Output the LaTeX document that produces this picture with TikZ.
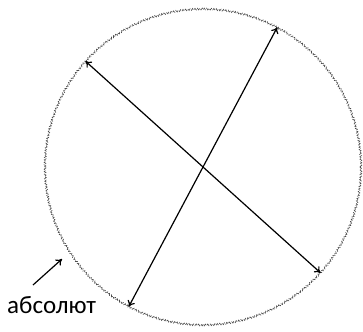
\documentclass[tikz,border=0pt]{standalone}
\usepackage{fontspec}
\setmainfont{Carlito}
\usetikzlibrary{decorations.pathmorphing,arrows.meta}
\tikzset{
  wavy/.style={draw=black!70, line width=0.6pt, decorate,
    decoration={zigzag, segment length=2.4pt, amplitude=0.9pt}, dash pattern=on 4pt off 1.6pt},
  diam/.style={{To[length=6pt,width=8pt]}-{To[length=6pt,width=8pt]}, line width=1.2pt},
  pointer/.style={-{To[length=6pt,width=8pt]}, line width=1.2pt},
  lbl/.style={font=\fontsize{25}{29}\selectfont, inner sep=0pt}
}
\begin{document}
\begin{tikzpicture}[x=1pt,y=-1pt]
\useasboundingbox (0,0) rectangle (363,331);
\node[circle, minimum size=316pt, inner sep=0pt, wavy] (abs) at (203,167) {};
\draw[diam] (abs.138) -- (abs.-42);
\draw[diam] (abs.62) -- (abs.242);
\node[lbl, anchor=base west] (word) at (7,313) {абсолют};
\coordinate (ptail) at (33,285);
\coordinate (phead) at (62,259);
\draw[pointer] (ptail) -- (phead);
\end{tikzpicture}
\end{document}
